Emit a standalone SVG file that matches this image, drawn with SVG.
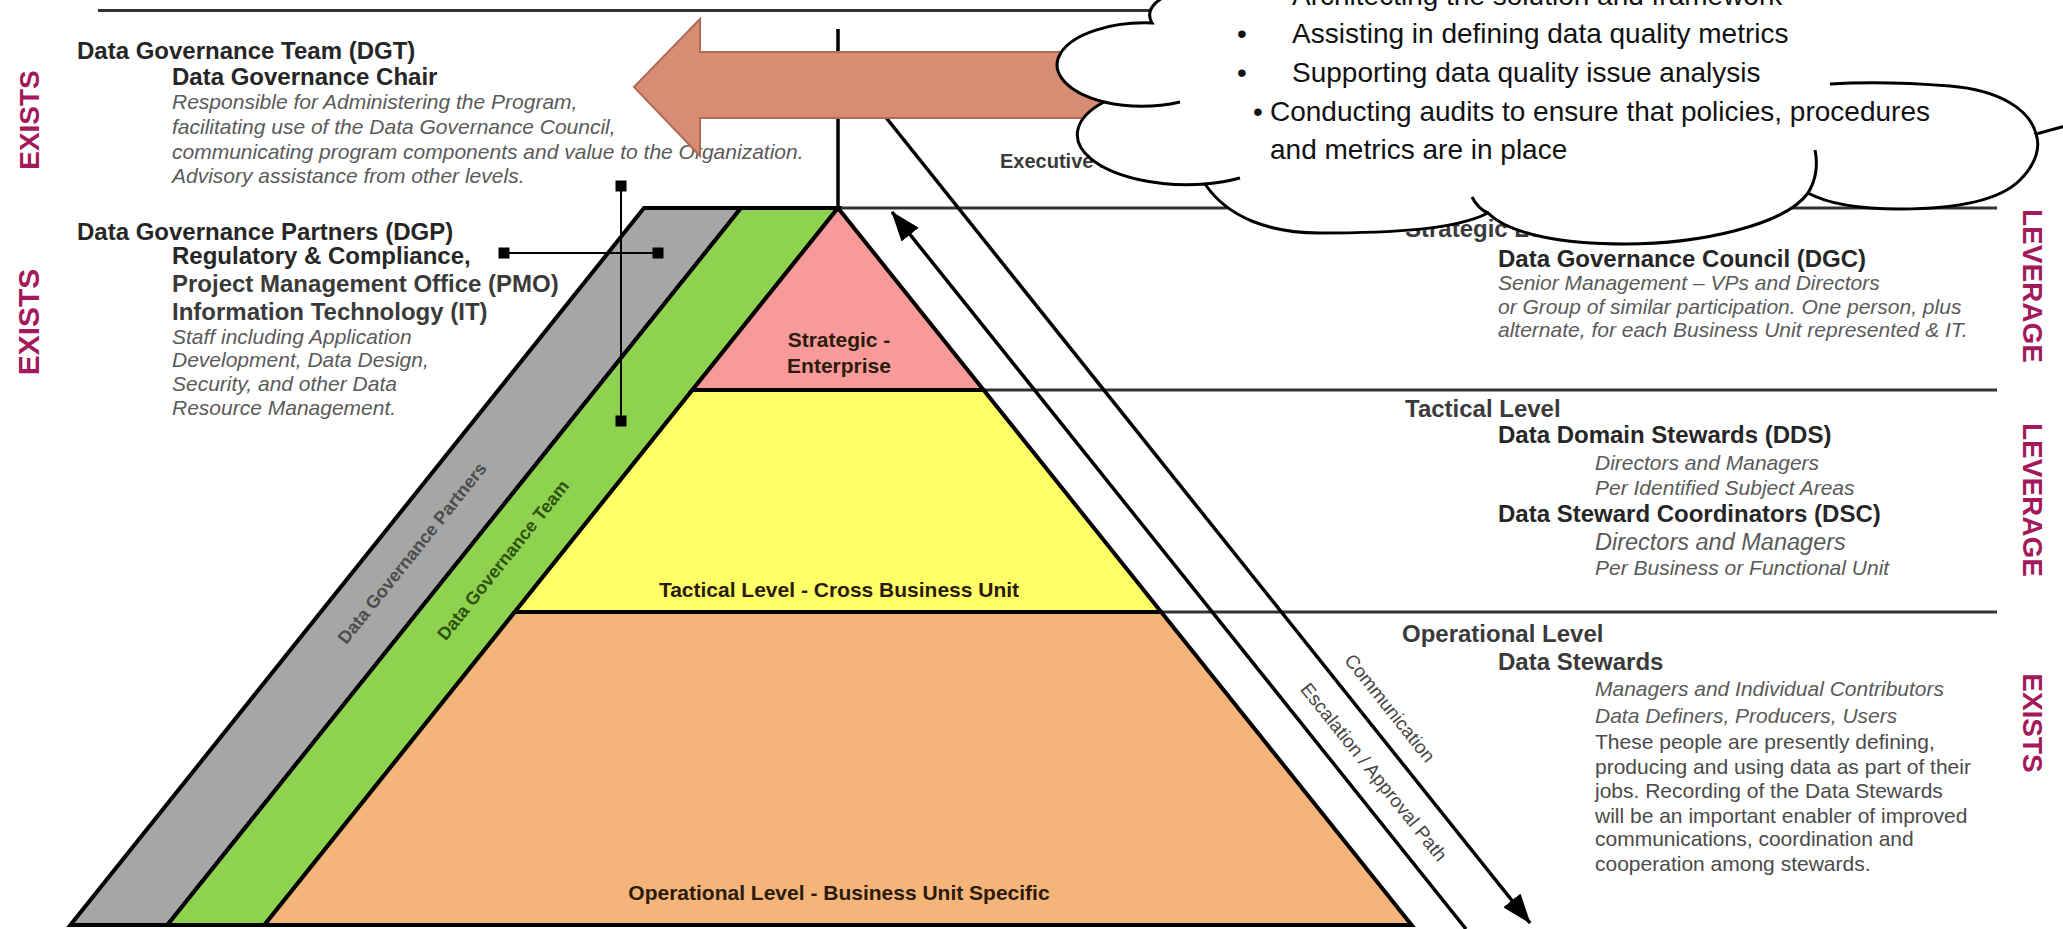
<svg xmlns="http://www.w3.org/2000/svg" width="2063" height="929" viewBox="0 0 2063 929">
<defs>
<style>
text{font-family:"Liberation Sans",Arial,sans-serif}
.h{font-weight:bold;font-size:24px;fill:#262626}
.h2{font-weight:bold;font-size:24px;fill:#3a3a3a}
.it{font-style:italic;font-size:21px;fill:#5a5a5a}
.rg{font-size:21px;fill:#4a4a4a}
.tag{font-weight:bold;font-size:28px;fill:#A3195B;text-anchor:middle}
.lvl{font-weight:bold;font-size:21px;fill:#2b1b0c;text-anchor:middle}
.band{font-weight:bold;font-size:18px;text-anchor:middle}
.pathlbl{font-size:19px;fill:#444;text-anchor:middle}
.cl{font-size:28px;fill:#111}
.rule{stroke:#333;stroke-width:3;fill:none}
.tier{stroke:#000;stroke-width:4;stroke-linejoin:miter}
.flow{stroke:#000;stroke-width:3.5;fill:none}
.knob{fill:#000}
</style>
<marker id="head" markerUnits="userSpaceOnUse" markerWidth="30" markerHeight="22" refX="29" refY="11" orient="auto">
<path d="M0,0 L30,11 L0,22 Z" fill="#000"/>
</marker>
</defs>

<rect width="2063" height="929" fill="#fff"/>

<!-- level separators -->
<g id="rules">
<line class="rule" x1="98" y1="10.5" x2="1200" y2="10.5"/>
<line class="rule" x1="838" y1="208" x2="1997" y2="208"/>
<line class="rule" x1="983" y1="390" x2="1997" y2="390"/>
<line class="rule" x1="1161" y1="612" x2="1997" y2="612"/>
<line class="flow" x1="838" y1="29" x2="838" y2="208"/>
</g>

<!-- pyramid tiers and side bands -->
<g id="band-partners">
<polygon class="tier" points="644,208 741,208 167.4,925 70.4,925" fill="#A6A6A6"/>
<text class="band" fill="#4d4d4d" transform="translate(412,553) rotate(-51.34)" dy="0.35em">Data Governance Partners</text>
</g>
<g id="band-team">
<polygon class="tier" points="741,208 838,208 264.4,925 167.4,925" fill="#8ED24F"/>
<text class="band" fill="#2e520e" transform="translate(503,560) rotate(-51.34)" dy="0.35em">Data Governance Team</text>
</g>
<g id="tier-strategic">
<polygon class="tier" points="838,208 692.4,390 983.6,390" fill="#F99A9A"/>
<text class="lvl" x="839" y="347">Strategic -</text>
<text class="lvl" x="839" y="373">Enterprise</text>
</g>
<g id="tier-tactical">
<polygon class="tier" points="692.4,390 983.6,390 1161.2,612 514.8,612" fill="#FFFF66"/>
<text class="lvl" x="839" y="597">Tactical Level - Cross Business Unit</text>
</g>
<g id="tier-operational">
<polygon class="tier" points="514.8,612 1161.2,612 1411.6,925 264.4,925" fill="#F5B47A"/>
<text class="lvl" x="839" y="900">Operational Level - Business Unit Specific</text>
</g>

<!-- connectors -->
<g id="connectors">
<line class="flow" x1="1466" y1="929" x2="892" y2="212" marker-end="url(#head)"/>
<line class="flow" x1="876" y1="105" x2="1530" y2="923" marker-end="url(#head)"/>
<line x1="621" y1="186" x2="621" y2="421" stroke="#000" stroke-width="2"/>
<line x1="504" y1="253" x2="658" y2="253" stroke="#000" stroke-width="2"/>
<rect class="knob" x="615.5" y="180.5" width="11" height="11"/>
<rect class="knob" x="615.5" y="415.5" width="11" height="11"/>
<rect class="knob" x="498.5" y="247.5" width="11" height="11"/>
<rect class="knob" x="652.5" y="247.5" width="11" height="11"/>
</g>

<g id="path-labels">
<text class="pathlbl" transform="translate(1390,708) rotate(51.34)" dy="0.35em">Communication</text>
<text class="pathlbl" transform="translate(1374,772) rotate(51.34)" dy="0.35em">Escalation / Approval Path</text>
</g>

<!-- side tags -->
<g id="tags">
<text class="tag" transform="translate(39,120) rotate(-90)">EXISTS</text>
<text class="tag" transform="translate(39,322) rotate(-90)" style="font-size:30px">EXISTS</text>
<text class="tag" transform="translate(2023,286) rotate(90)">LEVERAGE</text>
<text class="tag" transform="translate(2023,500) rotate(90)">LEVERAGE</text>
<text class="tag" transform="translate(2023,723) rotate(90)">EXISTS</text>
</g>

<!-- left descriptions -->
<g id="dgt">
<text class="h" x="77" y="59" fill="#1a1a1a">Data Governance Team (DGT)</text>
<text class="h" x="172" y="85">Data Governance Chair</text>
<text class="it" x="172" y="109">Responsible for Administering the Program,</text>
<text class="it" x="172" y="134">facilitating use of the Data Governance Council,</text>
<text class="it" x="172" y="159">communicating program components and value to the Organization.</text>
<text class="it" x="172" y="183">Advisory assistance from other levels.</text>
</g>
<g id="dgp">
<text class="h" x="77" y="240" fill="#1a1a1a">Data Governance Partners (DGP)</text>
<text class="h" x="172" y="264">Regulatory &amp; Compliance,</text>
<text class="h2" x="172" y="292">Project Management Office (PMO)</text>
<text class="h2" x="172" y="320">Information Technology (IT)</text>
<text class="it" x="172" y="344">Staff including Application</text>
<text class="it" x="172" y="367">Development, Data Design,</text>
<text class="it" x="172" y="391">Security, and other Data</text>
<text class="it" x="172" y="415">Resource Management.</text>
</g>

<!-- right descriptions -->
<g id="executive">
<text class="h2" x="1000" y="168" style="font-size:20px">Executive Level</text>
</g>
<g id="strategic">
<text class="h2" x="1405" y="237">Strategic Level</text>
<text class="h" x="1498" y="267">Data Governance Council (DGC)</text>
<text class="it" x="1498" y="290">Senior Management – VPs and Directors</text>
<text class="it" x="1498" y="314">or Group of similar participation. One person, plus</text>
<text class="it" x="1498" y="337">alternate, for each Business Unit represented &amp; IT.</text>
</g>
<g id="tactical">
<text class="h2" x="1405" y="417">Tactical Level</text>
<text class="h" x="1498" y="443">Data Domain Stewards (DDS)</text>
<text class="it" x="1595" y="470">Directors and Managers</text>
<text class="it" x="1595" y="495">Per Identified Subject Areas</text>
<text class="h" x="1498" y="522">Data Steward Coordinators (DSC)</text>
<text class="it" x="1595" y="550" style="font-size:23.5px">Directors and Managers</text>
<text class="it" x="1595" y="575">Per Business or Functional Unit</text>
</g>
<g id="operational">
<text class="h2" x="1402" y="642">Operational Level</text>
<text class="h2" x="1498" y="670">Data Stewards</text>
<text class="it" x="1595" y="696">Managers and Individual Contributors</text>
<text class="it" x="1595" y="723">Data Definers, Producers, Users</text>
<text class="rg" x="1595" y="749">These people are presently defining,</text>
<text class="rg" x="1595" y="774">producing and using data as part of their</text>
<text class="rg" x="1595" y="798">jobs.  Recording of the Data Stewards</text>
<text class="rg" x="1595" y="823">will be an important enabler of improved</text>
<text class="rg" x="1595" y="846">communications, coordination and</text>
<text class="rg" x="1595" y="871">cooperation among stewards.</text>
</g>

<!-- block arrow -->
<g id="arrow">
<polygon points="634,87 700,19 700,52 1190,52 1190,118 700,118 700,156" fill="#D78D74" stroke="#B06A55" stroke-width="2"/>
</g>

<!-- callout cloud -->
<g id="cloud">
<path d="M1188,-10 A50 26 0 0 0 1152,23 A88 42 0 0 0 1104,102 A110 50 0 0 0 1205,184 C1228,218 1270,233 1320,233 C1390,233 1455,230 1488,213 C1510,235 1565,244 1625,244 C1700,244 1785,225 1808,193 C1830,205 1860,209 1900,209 C1960,209 2000,200 2020,180 C2038,162 2040,145 2036,134 L2080,122 L2080,-20 L1188,-20 Z" fill="#fff" stroke="#000" stroke-width="3"/>
<g fill="none" stroke="#000" stroke-width="3">
<path d="M1104,102 A88 42 0 0 0 1180,102"/>
<path d="M1205,184 A110 50 0 0 0 1240,178"/>
<path d="M1472,197 C1476,205 1481,210 1488,213"/>
<path d="M1808,193 C1816,180 1818,165 1815,150"/>
<path d="M2036,134 C2030,110 2000,90 1950,86 C1900,82 1860,82 1830,84"/>
</g>
<text class="cl" x="1237" y="5">•</text>
<text class="cl" x="1292" y="5">Architecting the solution and framework</text>
<text class="cl" x="1237" y="43">•</text>
<text class="cl" x="1292" y="43">Assisting in defining data quality metrics</text>
<text class="cl" x="1237" y="82">•</text>
<text class="cl" x="1292" y="82">Supporting data quality issue analysis</text>
<text class="cl" x="1253" y="121">•</text>
<text class="cl" x="1270" y="121">Conducting audits to ensure that policies, procedures</text>
<text class="cl" x="1270" y="159">and metrics are in place</text>
</g>
</svg>
